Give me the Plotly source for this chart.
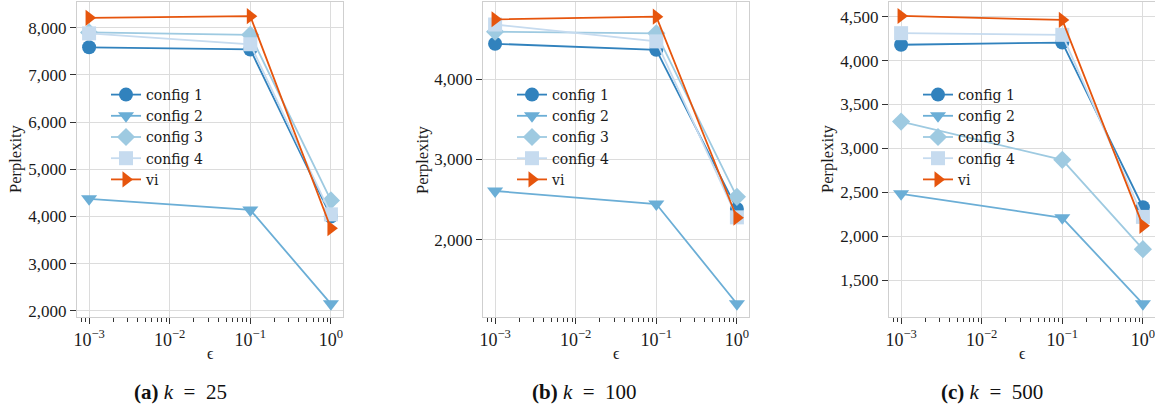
import plotly.graph_objects as go

eps = [0.001, 0.1, 1.0]
series_names = ["config 1", "config 2", "config 3", "config 4", "vi"]
colors = ["#3182bd", "#6baed6", "#9ecae1", "#c6dbef", "#e6550d"]
symbols = ["circle", "triangle-down", "diamond", "square", "triangle-right"]

# panel (a) k = 25
a_config1 = [7585, 7540, 4000]
a_config2 = [4375, 4140, 2150]
a_config3 = [7900, 7850, 4340]
a_config4 = [7880, 7650, 4045]
a_vi = [8210, 8245, 3750]

# panel (b) k = 100
b_config1 = [4440, 4365, 2385]
b_config2 = [2608, 2446, 1205]
b_config3 = [4590, 4570, 2535]
b_config4 = [4680, 4470, 2280]
b_vi = [4745, 4778, 2275]

# panel (c) k = 500
c_config1 = [4180, 4205, 2330]
c_config2 = [2483, 2210, 1230]
c_config3 = [3305, 2870, 1852]
c_config4 = [4312, 4293, 2220]
c_vi = [4508, 4463, 2118]

panels = [
    dict(data=[a_config1, a_config2, a_config3, a_config4, a_vi], yrange=[1870, 8545],
         dtick=1000, caption="<b>(a)</b> <i>k</i>\u2002=\u200225"),
    dict(data=[b_config1, b_config2, b_config3, b_config4, b_vi], yrange=[1040, 4960],
         dtick=1000, caption="<b>(b)</b> <i>k</i>\u2002=\u2002100"),
    dict(data=[c_config1, c_config2, c_config3, c_config4, c_vi], yrange=[1080, 4667],
         dtick=500, caption="<b>(c)</b> <i>k</i>\u2002=\u2002500"),
]

W, H = 1155, 406
left_px = [77, 483, 889]
caption_px = [180, 585, 992]
ylab_px = [15, 422, 827]
plot_w = 266
top_px, bot_px = 2, 317
FONT = "Liberation Serif, Times New Roman, serif"
LEGFONT = "DejaVu Serif, serif"
TXT = "#1a1a1a"
GRID = "#dcdcdc"

fig = go.Figure()

major_vals = [1e-3, 1e-2, 1e-1, 1.0]
major_text = ["10<sup>−3</sup>", "10<sup>−2</sup>", "10<sup>−1</sup>", "10<sup>0</sup>"]
minor_vals = [m * 10.0 ** e for e in range(-4, 1) for m in range(2, 10)]

for i, p in enumerate(panels):
    n = "" if i == 0 else str(i + 1)
    leg = "legend" if i == 0 else f"legend{i + 1}"
    for j, name in enumerate(series_names):
        fig.add_trace(go.Scatter(
            x=eps, y=p["data"][j], name=name, mode="lines+markers",
            line=dict(color=colors[j], width=1.8),
            marker=dict(symbol=symbols[j], size=14, color=colors[j]),
            xaxis="x" + n, yaxis="y" + n, legend=leg, showlegend=True,
            cliponaxis=False,
        ))
    x0 = left_px[i] / W
    x1 = min((left_px[i] + plot_w) / W, 1.0)
    y0 = (H - bot_px) / H
    y1 = (H - top_px) / H
    fig.layout["xaxis" + n] = dict(
        domain=[x0, x1], anchor="y" + n, type="log", range=[-3.15, 0.15],
        automargin=False, ticklabeloverflow="allow",
        tickmode="array", tickvals=major_vals, ticktext=major_text,
        ticks="outside", ticklen=6, tickcolor="#333", tickwidth=1,
        showgrid=True, gridcolor=GRID, gridwidth=1.2,
        showline=True, linecolor="#cfcfcf", linewidth=1.2, mirror=True,
        zeroline=False,
        minor=dict(tickmode="array", tickvals=minor_vals, ticks="outside",
                   ticklen=4, tickcolor="#333", tickwidth=1, showgrid=False),
        tickfont=dict(family=FONT, size=18, color=TXT),
    )
    fig.layout["yaxis" + n] = dict(
        domain=[y0, y1], anchor="x" + n, range=p["yrange"],
        automargin=False,
        dtick=p["dtick"], tick0=0, tickformat=",d",
        ticks="outside", ticklen=6, tickcolor="#333", tickwidth=1,
        showgrid=True, gridcolor=GRID, gridwidth=1.2,
        showline=True, linecolor="#cfcfcf", linewidth=1.2, mirror=True,
        zeroline=False,
        tickfont=dict(family=FONT, size=17, color=TXT),
    )
    fig.layout[leg] = dict(
        x=(left_px[i] + 29) / W, y=(H - 79) / H, xanchor="left", yanchor="top",
        bgcolor="rgba(0,0,0,0)", borderwidth=0,
        font=dict(family=LEGFONT, size=14, color=TXT),
        tracegroupgap=0,
    )
    cx = (left_px[i] + plot_w / 2) / W
    fig.add_annotation(text="ϵ", x=cx, y=(H - 353) / H, xref="paper", yref="paper",
                       showarrow=False, font=dict(family=FONT, size=16, color=TXT),
                       xanchor="center", yanchor="middle")
    fig.add_annotation(text=p["caption"], x=caption_px[i] / W, y=(H - 392) / H,
                       xref="paper", yref="paper",
                       showarrow=False, font=dict(family=FONT, size=21, color="#111"),
                       xanchor="center", yanchor="middle")
    fig.add_annotation(text="Perplexity", x=ylab_px[i] / W, y=(H - 159) / H,
                       xref="paper", yref="paper", showarrow=False, textangle=-90,
                       font=dict(family=FONT, size=16.5, color=TXT),
                       xanchor="center", yanchor="middle")

fig.update_layout(
    width=W, height=H, margin=dict(l=0, r=0, t=0, b=0, autoexpand=False),
    paper_bgcolor="white", plot_bgcolor="white",
    font=dict(family=FONT, color=TXT),
)

fig.write_html("out.html", config={"displayModeBar": False},
               post_script="document.body.style.margin='0px';")
